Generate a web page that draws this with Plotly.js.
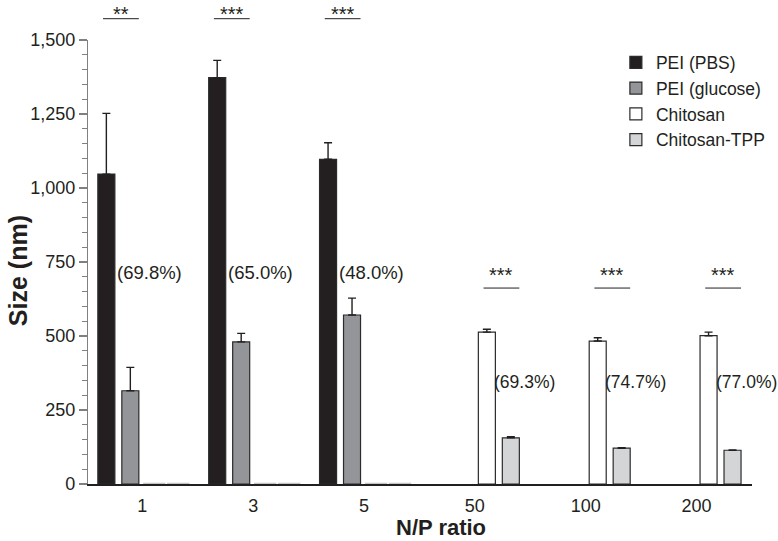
<!DOCTYPE html>
<html>
<head>
<meta charset="utf-8">
<script src="https://cdn.plot.ly/plotly-3.0.1.min.js"></script>
<style>html,body{margin:0;padding:0;background:#fff;}#chart{width:778px;height:541px;}</style>
</head>
<body>
<div id="chart"></div>
<script>
// ---- data ----
var categories = ['1', '3', '5', '50', '100', '200'];
var seriesNames = ['PEI (PBS)', 'PEI (glucose)', 'Chitosan', 'Chitosan-TPP'];
var peiPBS      = [1047, 1373, 1097, null, null, null];
var peiPBSErr   = [205, 58, 56, 0, 0, 0];
var peiGlucose  = [315, 480, 571, null, null, null];
var peiGlucoseErr = [79, 29, 57, 0, 0, 0];
var chitosan    = [0, 0, 0, 513, 483, 501];
var chitosanErr = [0, 0, 0, 10, 11, 12];
var chitosanTPP = [0, 0, 0, 156, 121, 114];
var chitosanTPPErr = [0, 0, 0, 4, 2, 1];
var reductionLabels = ['(69.8%)', '(65.0%)', '(48.0%)', '(69.3%)', '(74.7%)', '(77.0%)'];
var significance = ['**', '***', '***', '***', '***', '***'];
var yTicks = [0, 250, 500, 750, 1000, 1250, 1500];
var xTitle = 'N/P ratio';
var yTitle = 'Size (nm)';

// ---- style ----
var FONT = 'Liberation Sans, Arial, Helvetica, sans-serif';
var colors = ['#231f20', '#939598', '#ffffff', '#d4d5d6'];
var BARGAP = 0.135, BARGROUPGAP = 0.29, NTRACES = 4;
var slotW = (1 - BARGAP) / NTRACES;
function slotCenter(k) { return -(1 - BARGAP) / 2 + slotW * (k + 0.5); }
var barHalf = slotW * (1 - BARGROUPGAP) / 2;

var xIdx = categories.map(function (c, i) { return i; });
var values = [peiPBS, peiGlucose, chitosan, chitosanTPP];
var errs = [peiPBSErr, peiGlucoseErr, chitosanErr, chitosanTPPErr];

var traces = values.map(function (v, k) {
  return {
    type: 'bar', x: xIdx, y: v, name: seriesNames[k], legendgroup: 'g' + k,
    marker: { color: colors[k], line: { color: '#2b2b2b', width: 1.2 } },
    error_y: { type: 'data', array: errs[k], arrayminus: errs[k].map(function () { return 0; }),
               symmetric: false, color: '#231f20', thickness: 1.4, width: 4 },
    hoverinfo: 'x+y'
  };
});

// zero-size chitosan bars at N/P 1,3,5 drawn as flat dashes on the baseline
var dashX = [], dashY = [];
[2, 3].forEach(function (k) {
  values[k].forEach(function (v, i) {
    if (v === 0) { dashX.push(i + slotCenter(k)); dashY.push(v); }
  });
});
traces.push({
  type: 'scatter', mode: 'markers', x: dashX, y: dashY, showlegend: false, hoverinfo: 'skip',
  marker: { symbol: 'line-ew', size: 16, line: { color: '#c4c4c4', width: 2.5 } },
  cliponaxis: false
});

var annotations = [], shapes = [];
categories.forEach(function (c, i) {
  var isPEI = peiPBS[i] !== null;
  var a = isPEI ? i + slotCenter(0) : i + slotCenter(2);
  var b = isPEI ? i + slotCenter(1) : i + slotCenter(3);
  var x0 = a - 0.03, x1 = b + barHalf;
  if (isPEI) {
    shapes.push({ type: 'line', xref: 'x', yref: 'paper', x0: x0, x1: x1, y0: 1.048, y1: 1.048,
                  line: { color: '#231f20', width: 1 } });
    annotations.push({ xref: 'x', yref: 'paper', x: (x0 + x1) / 2, y: 1.087, text: significance[i],
                       showarrow: false, font: { family: FONT, size: 20, color: '#231f20' }, yanchor: 'top' });
    annotations.push({ xref: 'x', yref: 'y', x: a + barHalf, y: 716, text: reductionLabels[i],
                       xanchor: 'left', yanchor: 'middle', showarrow: false,
                       font: { family: FONT, size: 18.5, color: '#231f20' } });
  } else {
    shapes.push({ type: 'line', xref: 'x', yref: 'y', x0: x0, x1: x1, y0: 662, y1: 662,
                  line: { color: '#231f20', width: 1 } });
    annotations.push({ xref: 'x', yref: 'y', x: (x0 + x1) / 2, y: 706, text: significance[i],
                       showarrow: false, font: { family: FONT, size: 20, color: '#231f20' }, yanchor: 'middle' });
    annotations.push({ xref: 'x', yref: 'y', x: a + barHalf, y: 345, text: reductionLabels[i],
                       xanchor: 'left', yanchor: 'middle', showarrow: false, xshift: -3,
                       font: { family: FONT, size: 17.5, color: '#231f20' } });
  }
});

// axis titles (placed as in the reference, slightly off-centre)
annotations.push({ xref: 'paper', yref: 'paper', x: 0.532, y: -0.128, text: '<b>' + xTitle + '</b>',
                   showarrow: false, xanchor: 'center', yanchor: 'bottom', borderpad: 0,
                   font: { family: FONT, size: 22, color: '#231f20' } });
annotations.push({ xref: 'paper', yref: 'paper', x: -0.105, y: 0.48, text: '<b>' + yTitle + '</b>',
                   showarrow: false, xanchor: 'center', yanchor: 'middle', textangle: -90,
                   font: { family: FONT, size: 25, color: '#231f20' } });

var layout = {
  width: 778, height: 541,
  margin: { l: 88, r: 26, t: 40, b: 57, autoexpand: false },
  paper_bgcolor: '#fff', plot_bgcolor: '#fff',
  font: { family: FONT, size: 18, color: '#231f20' },
  barmode: 'group', bargap: BARGAP, bargroupgap: BARGROUPGAP,
  showlegend: true,
  legend: { x: 0.795, y: 0.99, xanchor: 'left', yanchor: 'top', bgcolor: 'rgba(0,0,0,0)',
            font: { family: FONT, size: 17.5, color: '#231f20' }, tracegroupgap: 4, traceorder: 'normal' },
  xaxis: {
    type: 'linear', range: [-0.49, 5.5], tickvals: xIdx, ticktext: categories,
    showgrid: false, zeroline: false, showline: true, linecolor: '#231f20', linewidth: 1.5,
    ticks: 'outside', ticklen: 5, tickcolor: 'rgba(0,0,0,0)',
    tickfont: { family: FONT, size: 18, color: '#231f20' },
    fixedrange: true
  },
  yaxis: {
    range: [0, 1500], tickvals: yTicks, tickformat: ',d',
    showgrid: false, zeroline: false, showline: true, linecolor: '#808080', linewidth: 1.2,
    ticks: 'outside', ticklen: 8, tickcolor: '#808080', tickwidth: 1.2,
    minor: { dtick: 50, ticks: 'outside', ticklen: 5, tickcolor: '#808080', tickwidth: 1, showgrid: false },
    tickfont: { family: FONT, size: 18, color: '#231f20' },
    fixedrange: true
  },
  shapes: shapes,
  annotations: annotations
};

Plotly.newPlot('chart', traces, layout, { displayModeBar: false, staticPlot: true });
</script>
</body>
</html>
